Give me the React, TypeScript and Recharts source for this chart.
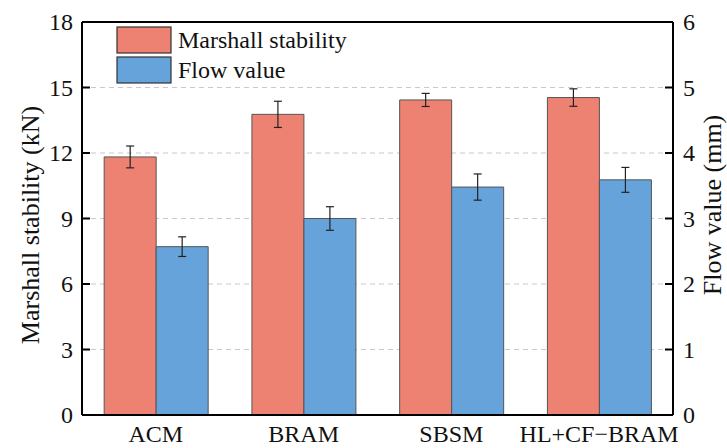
import React from "react";
import {
  BarChart,
  Bar,
  XAxis,
  YAxis,
  CartesianGrid,
  ErrorBar,
  ReferenceLine,
} from "recharts";

const categories = ["ACM", "BRAM", "SBSM", "HL+CF\u2212BRAM"];
const stability = [11.82, 13.77, 14.43, 14.54];
const stabilityErr = [0.5, 0.6, 0.3, 0.4];
const flow = [2.57, 3.0, 3.48, 3.59];
const flowErr = [0.15, 0.18, 0.2, 0.19];

const leftTicks = [0, 3, 6, 9, 12, 15, 18];
const rightTicks = [0, 1, 2, 3, 4, 5, 6];
const seriesNames = ["Marshall stability", "Flow value"];

const RED = "#EE8272";
const BLUE = "#67A3DB";
const FONT = "'Liberation Serif', 'Times New Roman', serif";

// plot box
const W = 727;
const H = 448;
const LEFT = 82;
const RIGHT = 673;
const TOP = 22;
const BOTTOM = 415;

const chartData = categories.map((name, i) => ({
  name,
  stability: stability[i],
  stabilityErr: stabilityErr[i],
  flow: flow[i],
  flowErr: flowErr[i],
}));

const LeftTick = (props: any) => {
  const { y, payload } = props;
  return (
    <g>
      <line x1={LEFT} x2={LEFT + 8} y1={y} y2={y} stroke="#000" strokeWidth={2} />
      <text x={73} y={y} dy="0.35em" textAnchor="end" fontSize={24} fontFamily={FONT} fill="#111">
        {payload.value}
      </text>
    </g>
  );
};

const RightTick = (props: any) => {
  const { y, payload } = props;
  return (
    <g>
      <line x1={RIGHT - 8} x2={RIGHT} y1={y} y2={y} stroke="#000" strokeWidth={2} />
      <text x={683} y={y} dy="0.35em" textAnchor="start" fontSize={24} fontFamily={FONT} fill="#111">
        {payload.value}
      </text>
    </g>
  );
};

const CatTick = (props: any) => {
  const { x, payload } = props;
  return (
    <text x={x} y={442} textAnchor="middle" fontSize={24} fontFamily={FONT} fill="#111">
      {payload.value}
    </text>
  );
};

// axis titles + legend, drawn at fixed spots
const Overlay = () => (
  <g fontFamily={FONT} fill="#111">
    <text
      transform="translate(39, 225) rotate(-90)"
      textAnchor="middle"
      fontSize={26}
    >
      Marshall stability (kN)
    </text>
    <text
      transform="translate(721, 205) rotate(-90)"
      textAnchor="middle"
      fontSize={26}
    >
      Flow value (mm)
    </text>
    {seriesNames.map((n, i) => (
      <g key={n}>
        <rect
          x={117}
          y={27 + i * 30}
          width={54}
          height={26}
          fill={i === 0 ? RED : BLUE}
          stroke="#333"
          strokeWidth={1.2}
        />
        <text x={178} y={48 + i * 30} fontSize={24}>
          {n}
        </text>
      </g>
    ))}
  </g>
);

export default function App() {
  return (
    <div style={{ position: "absolute", left: 0, top: 0, background: "#fff" }}>
      <BarChart
        width={W}
        height={H}
        data={chartData}
        margin={{ top: TOP, right: 0, bottom: 0, left: 0 }}
        barCategoryGap="15%"
        barGap={0}
      >
        <CartesianGrid
          yAxisId="left"
          vertical={false}
          stroke="#c8c8c8"
          strokeDasharray="5 4"
        />
        <XAxis
          dataKey="name"
          height={H - BOTTOM}
          axisLine={{ stroke: "#000", strokeWidth: 2 }}
          tickLine={false}
          tick={<CatTick />}
          interval={0}
          label={<Overlay />}
        />
        <YAxis
          yAxisId="left"
          orientation="left"
          width={LEFT}
          domain={[0, 18]}
          ticks={leftTicks}
          axisLine={{ stroke: "#000", strokeWidth: 2 }}
          tickLine={false}
          tick={<LeftTick />}
          interval={0}
        />
        <YAxis
          yAxisId="right"
          orientation="right"
          width={W - RIGHT}
          domain={[0, 6]}
          ticks={rightTicks}
          axisLine={{ stroke: "#000", strokeWidth: 2 }}
          tickLine={false}
          tick={<RightTick />}
          interval={0}
        />
        <ReferenceLine yAxisId="left" y={18} stroke="#000" strokeWidth={2} />
        <Bar
          yAxisId="left"
          dataKey="stability"
          name={seriesNames[0]}
          fill={RED}
          stroke="#555"
          strokeWidth={1}
          isAnimationActive={false}
        >
          <ErrorBar dataKey="stabilityErr" width={4} stroke="#222" strokeWidth={1.2} direction="y" />
        </Bar>
        <Bar
          yAxisId="right"
          dataKey="flow"
          name={seriesNames[1]}
          fill={BLUE}
          stroke="#555"
          strokeWidth={1}
          isAnimationActive={false}
        >
          <ErrorBar dataKey="flowErr" width={4} stroke="#222" strokeWidth={1.2} direction="y" />
        </Bar>
      </BarChart>
    </div>
  );
}
